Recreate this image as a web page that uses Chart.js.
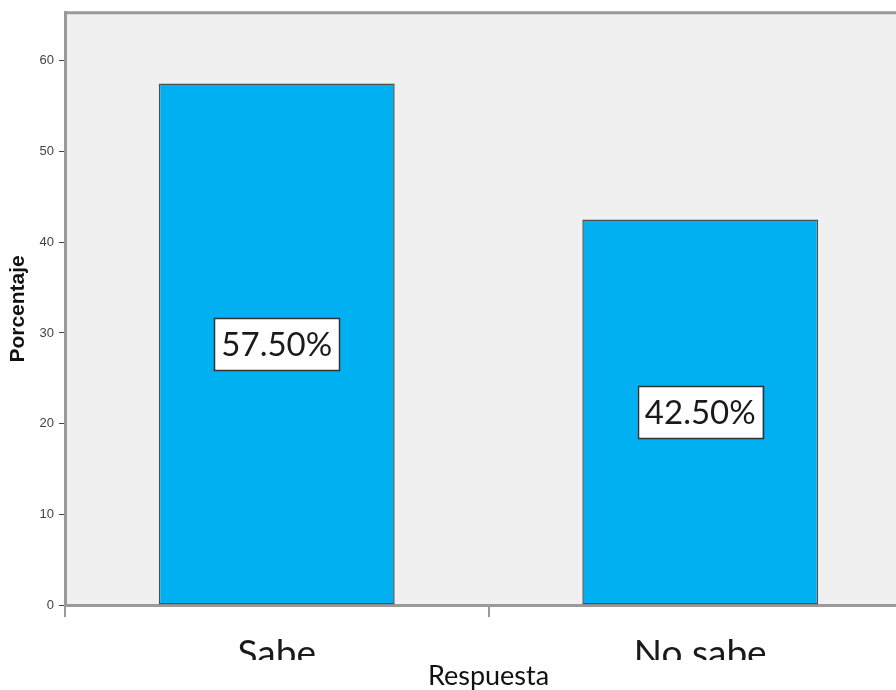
<!DOCTYPE html>
<html>
<head>
<meta charset="utf-8">
<script src="https://cdn.jsdelivr.net/npm/chart.js@4/dist/chart.umd.min.js"></script>
<style>
  html, body { margin: 0; padding: 0; background: #fff; overflow: hidden; }
  #wrap { width: 912px; height: 690px; }
</style>
</head>
<body>
<div id="wrap"><canvas id="respuestas" width="912" height="690"></canvas></div>
<script>
// categorias y porcentajes
const categorias = ['Sabe', 'No sabe'];
const porcentajes = [57.5, 42.5];
const etiquetas = ['57.50%', '42.50%'];
const ticksY = [0, 10, 20, 30, 40, 50, 60];

// fondo gris del area y linea superior del marco
const marco = {
    id: 'marco',
    beforeDraw(chart) {
        const { ctx, chartArea: a } = chart;
        ctx.save();
        ctx.fillStyle = '#f0f0f0';
        ctx.fillRect(a.left, a.top, a.right - a.left, a.bottom - a.top);
        ctx.strokeStyle = '#9a9a9a';
        ctx.lineWidth = 3;
        ctx.beginPath();
        ctx.moveTo(a.left - 1, a.top);
        ctx.lineTo(a.right, a.top);
        ctx.stroke();
        ctx.restore();
    }
};

// cajas blancas con el porcentaje en el centro de cada barra
const cajas = {
    id: 'cajas',
    afterDatasetsDraw(chart) {
        const { ctx } = chart;
        const meta = chart.getDatasetMeta(0);
        ctx.save();
        ctx.font = '33px Lato';
        ctx.textAlign = 'center';
        ctx.textBaseline = 'middle';
        meta.data.forEach((bar, i) => {
            const txt = etiquetas[i];
            const cx = bar.x;
            const cy = (bar.y + bar.base) / 2;
            const w = ctx.measureText(txt).width + 14;
            const h = 52;
            ctx.fillStyle = '#ffffff';
            ctx.fillRect(cx - w / 2, cy - h / 2, w, h);
            ctx.strokeStyle = '#333';
            ctx.lineWidth = 1.5;
            ctx.strokeRect(Math.round(cx - w / 2) + 0.5, Math.round(cy - h / 2) + 0.5, Math.round(w), h);
            ctx.fillStyle = '#1a1a1a';
            ctx.fillText(txt, cx, cy + 1);
        });
        ctx.restore();
    }
};

const ctx = document.getElementById('respuestas');

const chart = new Chart(ctx, {
    type: 'bar',
    plugins: [marco, cajas],
    data: {
        labels: categorias,
        datasets: [{
            data: porcentajes,
            backgroundColor: '#00b0f0',
            borderColor: '#505050',
            borderWidth: 1.5,
            borderSkipped: false,
            categoryPercentage: 1,
            barPercentage: 0.557
        }]
    },
    options: {
        responsive: false,
        devicePixelRatio: 1,
        animation: false,
        layout: { padding: { top: 12, left: 6, right: 0, bottom: 0 } },
        plugins: {
            legend: { display: false },
            tooltip: { enabled: false }
        },
        scales: {
            x: {
                offset: true,
                grid: {
                    offset: true,
                    drawOnChartArea: false,
                    drawTicks: true,
                    tickLength: 12,
                    color: '#9a9a9a',
                    lineWidth: 2
                },
                border: { color: '#9a9a9a', width: 3 },
                ticks: {
                    color: '#1a1a1a',
                    font: { family: 'Lato', size: 37 },
                    padding: 15
                },
                title: {
                    display: true,
                    text: 'Respuesta',
                    color: '#111',
                    font: { family: 'Lato', size: 27, lineHeight: 1 },
                    padding: { top: 0, bottom: 0 }
                },
                afterFit(scale) { scale.height = 85; },
                afterUpdate(scale) {
                    // las etiquetas de categoria quedan recortadas por abajo
                    if (scale._recorte) return;
                    scale._recorte = true;
                    const dibujar = scale.drawLabels.bind(scale);
                    scale.drawLabels = function (area) {
                        const c = this.ctx;
                        c.save();
                        c.beginPath();
                        c.rect(0, this.top, this.chart.width, 55);
                        c.clip();
                        dibujar(area);
                        c.restore();
                    };
                }
            },
            y: {
                min: 0,
                max: 65.3,
                grid: {
                    drawOnChartArea: false,
                    drawTicks: true,
                    tickLength: 6,
                    color: '#444'
                },
                border: { color: '#9a9a9a', width: 3 },
                ticks: {
                    stepSize: 10,
                    padding: 5,
                    color: '#444',
                    font: { family: 'Liberation Sans', size: 13 }
                },
                afterBuildTicks(scale) {
                    scale.ticks = ticksY.map(v => ({ value: v }));
                },
                title: {
                    display: true,
                    text: 'Porcentaje',
                    color: '#111',
                    font: { family: 'Liberation Sans', size: 21, weight: 'bold' },
                    padding: 0
                },
                afterFit(scale) { scale.width = 59; }
            }
        }
    }
});
</script>
</body>
</html>
